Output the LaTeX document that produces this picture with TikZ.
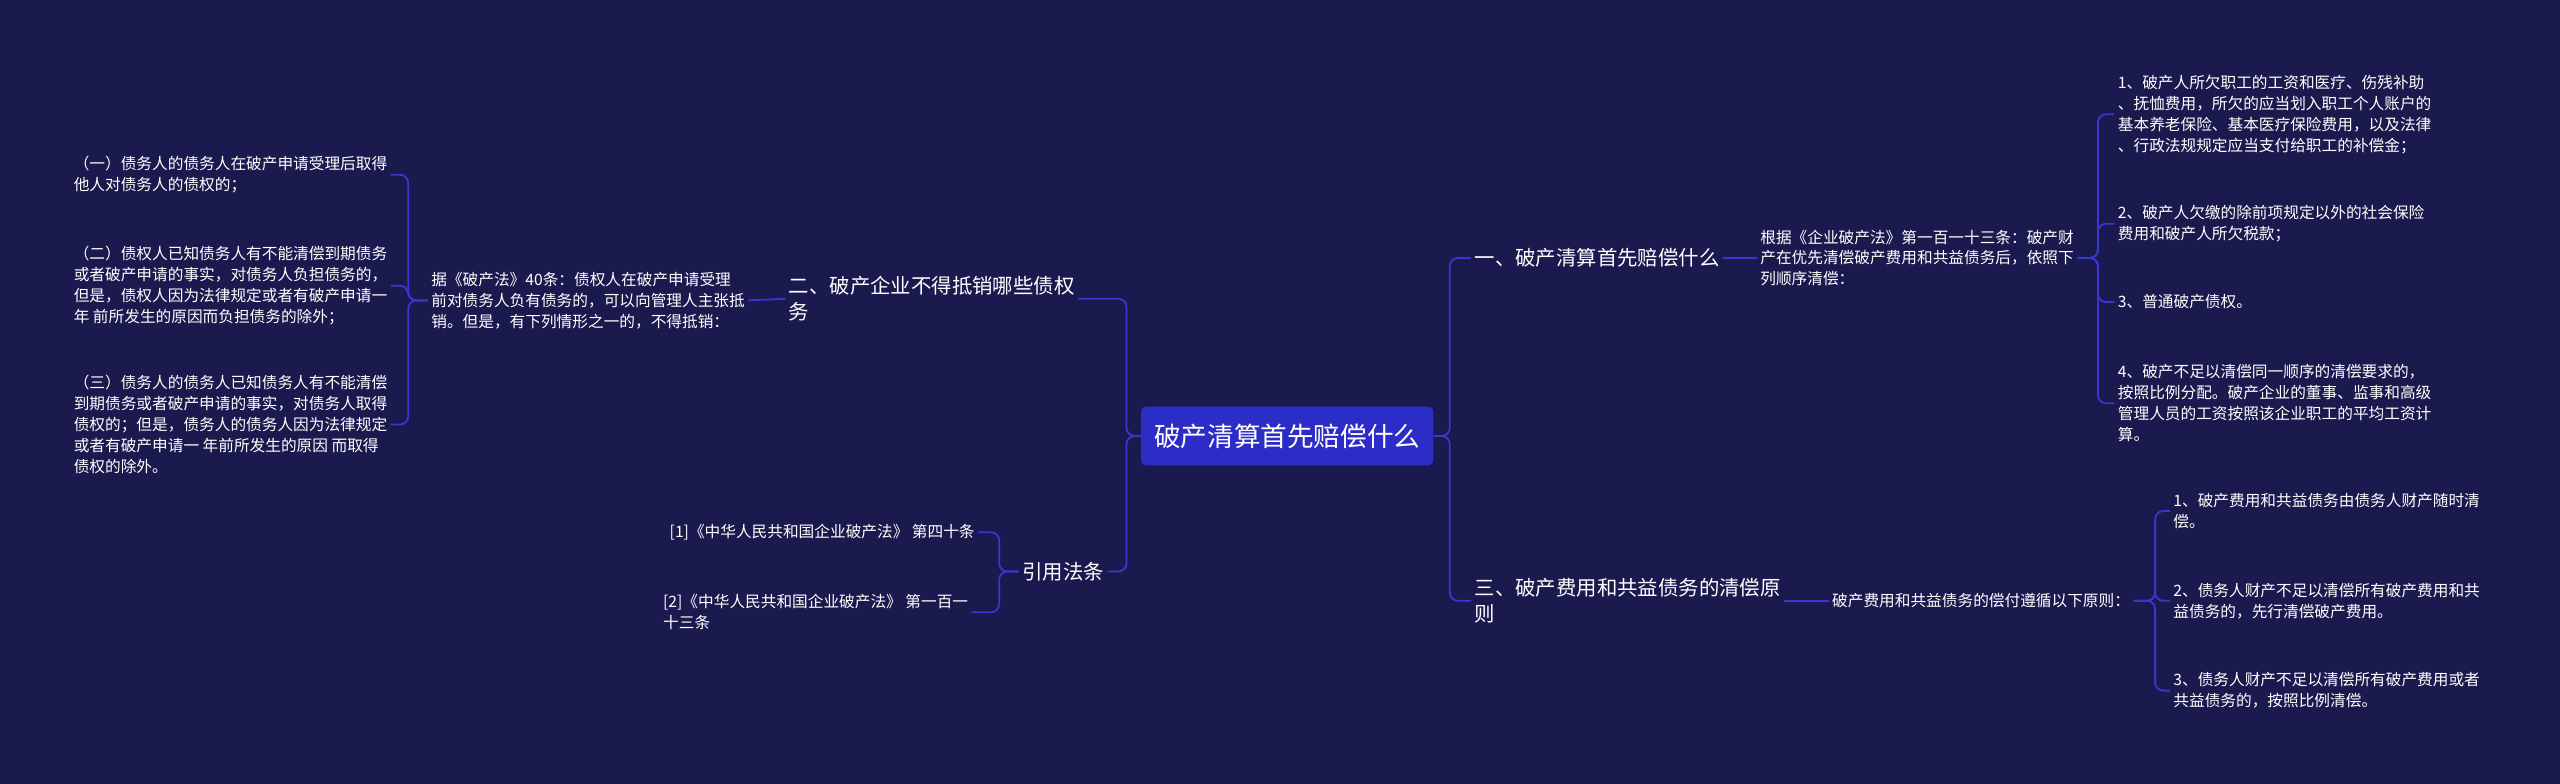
\documentclass[tikz,border=0pt]{standalone}
\usepackage{fontspec}
\setmainfont{Noto Sans CJK SC}
\definecolor{bgnavy}{HTML}{1B1A4F}
\definecolor{rootblue}{HTML}{2C2CC6}
\definecolor{linkblue}{HTML}{3838D0}

\begin{document}
\begin{tikzpicture}[%
    x=1pt, y=-1pt,              % work in picture pixels, y downwards
    every node/.style={text=white, inner sep=2pt},
    ]
% -------------------------------------------------
% Node and connector styles
\tikzset{
  root/.style={fill=rootblue, rounded corners=3pt, minimum width=179pt,
    minimum height=36pt, font=\fontsize{16.3}{20}\selectfont},
  topic/.style={align=left, anchor=west, font=\fontsize{12.5}{16}\selectfont},
  leaf/.style={align=left, anchor=west, font=\fontsize{9.6}{12.8}\selectfont},
  link/.style={draw=linkblue, line width=1.1pt, rounded corners=5pt}
}
\fill[bgnavy] (0,0) rectangle (1568,480);
% -------------------------------------------------
% Centre
\node [root] (root) at (788.5,267) {破产清算首先赔偿什么};

% Right side
\node [topic] (a1) at (901,158) {一、破产清算首先赔偿什么};
\node [leaf] (a1txt) at (1076,158) {根据《企业破产法》第一百一十三条：破产财\\产在优先清偿破产费用和共益债务后，依照下\\列顺序清偿：};
\node [leaf] (c1) at (1295,70) {1、破产人所欠职工的工资和医疗、伤残补助\\、抚恤费用，所欠的应当划入职工个人账户的\\基本养老保险、基本医疗保险费用，以及法律\\、行政法规规定应当支付给职工的补偿金；};
\node [leaf] (c2) at (1295,137) {2、破产人欠缴的除前项规定以外的社会保险\\费用和破产人所欠税款；};
\node [leaf] (c3) at (1295,185) {3、普通破产债权。};
\node [leaf] (c4) at (1295,247) {4、破产不足以清偿同一顺序的清偿要求的，\\按照比例分配。破产企业的董事、监事和高级\\管理人员的工资按照该企业职工的平均工资计\\算。};

\node [topic] (a3) at (901,368) {三、破产费用和共益债务的清偿原\\则};
\node [leaf] (a3txt) at (1120,368) {破产费用和共益债务的偿付遵循以下原则：};
\node [leaf] (d1) at (1329,313) {1、破产费用和共益债务由债务人财产随时清\\偿。};
\node [leaf] (d2) at (1329,368) {2、债务人财产不足以清偿所有破产费用和共\\益债务的，先行清偿破产费用。};
\node [leaf] (d3) at (1329,423) {3、债务人财产不足以清偿所有破产费用或者\\共益债务的，按照比例清偿。};

% Left side
\node [topic] (b1) at (481,183) {二、破产企业不得抵销哪些债权\\务};
\node [leaf] (b1txt) at (262,184) {据《破产法》40条：债权人在破产申请受理\\前对债务人负有债务的，可以向管理人主张抵\\销。但是，有下列情形之一的，不得抵销：};
\node [leaf] (e1) at (43,107) {（一）债务人的债务人在破产申请受理后取得\\他人对债务人的债权的；};
\node [leaf] (e2) at (43,175) {（二）债权人已知债务人有不能清偿到期债务\\或者破产申请的事实，对债务人负担债务的，\\但是，债权人因为法律规定或者有破产申请一\\年 前所发生的原因而负担债务的除外；};
\node [leaf] (e3) at (43,260) {（三）债务人的债务人已知债务人有不能清偿\\到期债务或者破产申请的事实，对债务人取得\\债权的；但是，债务人的债务人因为法律规定\\ 或者有破产申请一 年前所发生的原因 而取得\\债权的除外。};

\node [topic] (b2) at (624,350) {引用法条};
\node [leaf] (f1) at (408,326) {[1]《中华人民共和国企业破产法》 第四十条};
\node [leaf] (f2) at (404,375) {[2]《中华人民共和国企业破产法》 第一百一\\十三条};

% -------------------------------------------------
% Connectors
\foreach \n in {a1,a3}
  \draw [link] (root.east) -- (888,267) |- (\n.west);
\foreach \n in {b1,b2}
  \draw [link] (root.west) -- (690,267) |- (\n.east);
\draw [link] (a1.east) -- (a1txt.west);
\draw [link] (a3.east) -- (a3txt.west);
\draw [link] (b1.west) -- (b1txt.east);
\foreach \n in {c1,c2,c3,c4}
  \draw [link] (a1txt.east) -- (1285,158) |- (\n.west);
\foreach \n in {d1,d2,d3}
  \draw [link] (a3txt.east) -- (1320,368) |- (\n.west);
\foreach \n in {e1,e2,e3}
  \draw [link] (b1txt.west) -- (250,184) |- (\n.east);
\foreach \n in {f1,f2}
  \draw [link] (b2.west) -- (612,350) |- (\n.east);
% -------------------------------------------------
\end{tikzpicture}
\end{document}
